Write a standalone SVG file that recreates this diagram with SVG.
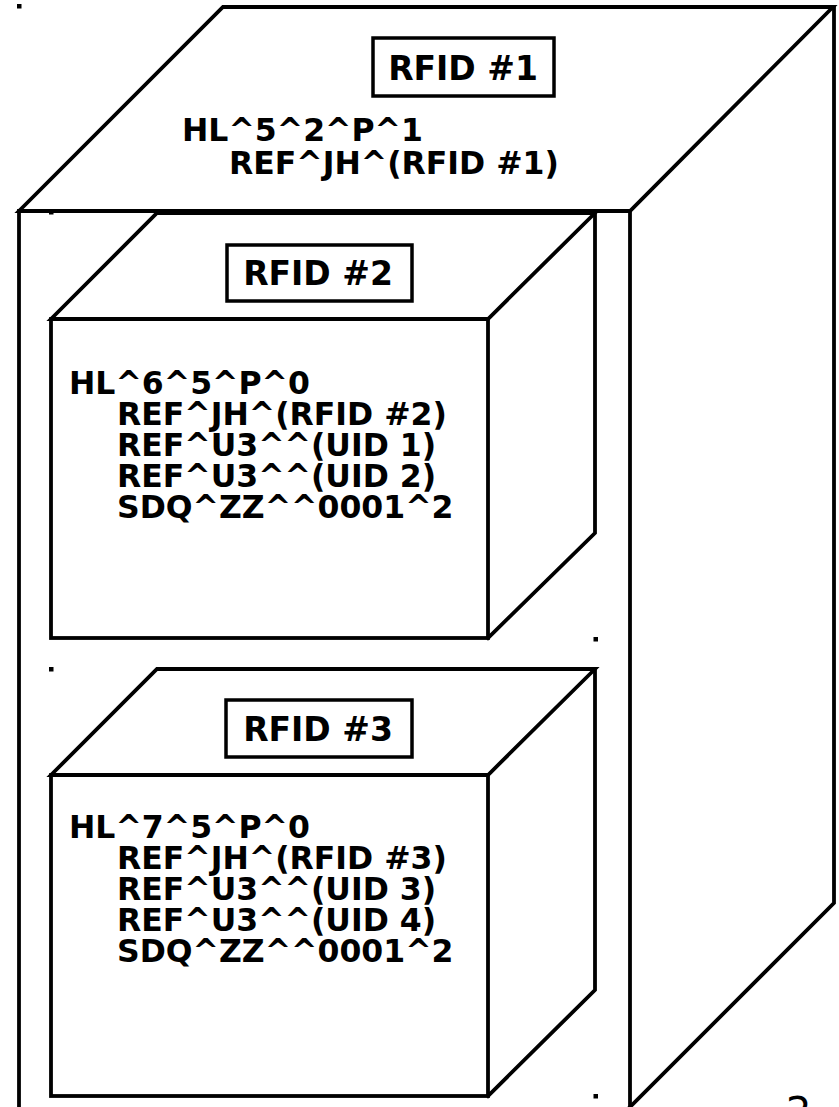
<svg xmlns="http://www.w3.org/2000/svg" width="839" height="1107" viewBox="0 0 839 1107">
  <style>
    .edge { fill: none; stroke: #000; stroke-width: 3.8; stroke-linejoin: miter; stroke-linecap: square; }
    .lbl { fill: #fff; stroke: #000; stroke-width: 3.5; }
    .lbltxt { font-family: "DejaVu Sans", sans-serif; font-weight: bold; font-size: 33px; fill: #000; text-anchor: middle; }
    .body { font-family: "DejaVu Sans", sans-serif; font-weight: bold; font-size: 31.5px; fill: #000; }
    .dot { fill: #000; }
  </style>
  <rect width="839" height="1107" fill="#fff"/>

  <g id="pallet">
    <path class="edge" d="M223 7 L833 7 L630 211 L19 211 Z"/>
    <path class="edge" d="M19 211 L19 1110"/>
    <path class="edge" d="M630 211 L630 1110"/>
    <path class="edge" d="M834 7 L834 903 L630 1107"/>
    <rect class="dot" x="17" y="4" width="4.5" height="4.5"/>
    <rect class="dot" x="49" y="210" width="4.5" height="4.5"/>
    <rect class="lbl" x="373" y="38" width="181" height="58"/>
    <text class="lbltxt" x="463" y="80">RFID #1</text>
    <text class="body" x="182" y="141">HL^5^2^P^1</text>
    <text class="body" x="229" y="174">REF^JH^(RFID #1)</text>
  </g>

  <g id="case2">
    <path class="edge" d="M157 213 L595 213 L488 319 L51 319 Z"/>
    <rect class="edge" x="51" y="319" width="437" height="319"/>
    <path class="edge" d="M595 213 L595 533 L488 638"/>
    <rect class="lbl" x="227" y="245" width="185" height="56"/>
    <text class="lbltxt" x="318" y="285">RFID #2</text>
    <text class="body" x="69" y="394">HL^6^5^P^0</text>
    <text class="body" x="117" y="425">REF^JH^(RFID #2)</text>
    <text class="body" x="117" y="456">REF^U3^^(UID 1)</text>
    <text class="body" x="117" y="487">REF^U3^^(UID 2)</text>
    <text class="body" x="117" y="518">SDQ^ZZ^^0001^2</text>
    <rect class="dot" x="49" y="667" width="4.5" height="4.5"/>
    <rect class="dot" x="593.5" y="637" width="4.5" height="4.5"/>
  </g>

  <g id="case3">
    <path class="edge" d="M157 669 L595 669 L488 775 L51 775 Z"/>
    <rect class="edge" x="51" y="775" width="437" height="321"/>
    <path class="edge" d="M595 669 L595 990 L488 1096"/>
    <rect class="lbl" x="226" y="700" width="186" height="57"/>
    <text class="lbltxt" x="318" y="741">RFID #3</text>
    <text class="body" x="69" y="838">HL^7^5^P^0</text>
    <text class="body" x="117" y="869">REF^JH^(RFID #3)</text>
    <text class="body" x="117" y="900">REF^U3^^(UID 3)</text>
    <text class="body" x="117" y="931">REF^U3^^(UID 4)</text>
    <text class="body" x="117" y="962">SDQ^ZZ^^0001^2</text>
    <rect class="dot" x="593.5" y="1094" width="4.5" height="4.5"/>
  </g>

  <g id="connectors"/>

  <text x="786" y="1126" font-family="DejaVu Sans, sans-serif" font-size="40" fill="#000">2</text>
</svg>
